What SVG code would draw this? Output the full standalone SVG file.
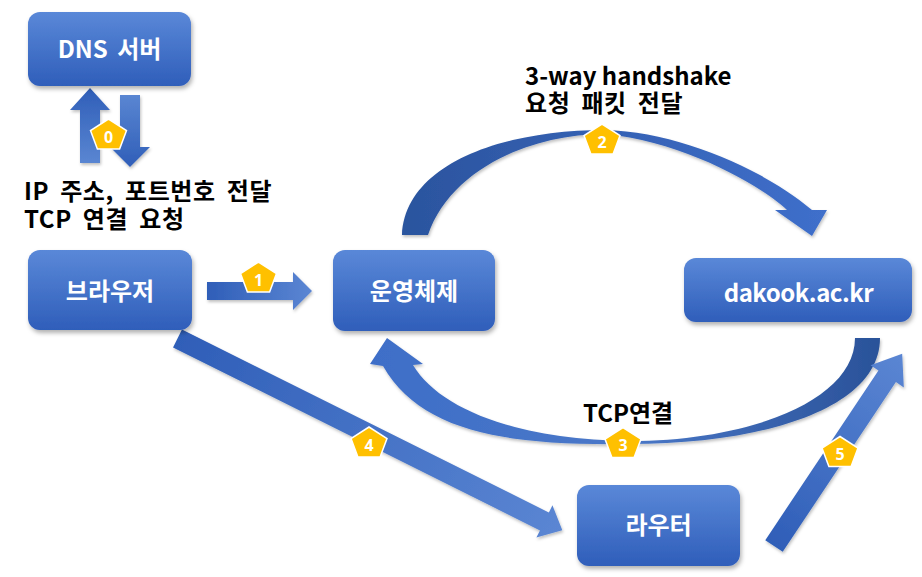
<svg xmlns="http://www.w3.org/2000/svg" width="922" height="577" viewBox="0 0 922 577">
<defs>
<style>
.node rect{fill:url(#gNode);filter:url(#sh)}
.ntext{font-family:"Noto Sans CJK KR","Noto Sans",sans-serif;font-weight:700;font-size:24px;fill:#fff;text-anchor:middle}
.lbl{font-family:"Noto Sans CJK KR","Noto Sans",sans-serif;font-weight:700;font-size:24px;fill:#000}
.ko{word-spacing:5px;letter-spacing:0.6px}
.badge text{font-family:"Noto Sans","Noto Sans CJK KR",sans-serif;font-weight:700;font-size:16px;fill:#fff;text-anchor:middle}
.badge use{fill:#FFC000;stroke:#fff;stroke-width:1.5}
</style>
<linearGradient id="gNode" x1="0" y1="0" x2="0" y2="1">
<stop offset="0" stop-color="#5A88D8"/><stop offset="1" stop-color="#2F5EBA"/>
</linearGradient>
<linearGradient id="gUp" x1="0" y1="1" x2="0" y2="0">
<stop offset="0" stop-color="#5A86D2"/><stop offset="1" stop-color="#2F5EB8"/>
</linearGradient>
<linearGradient id="gDown" x1="0" y1="0" x2="0" y2="1">
<stop offset="0" stop-color="#5A86D2"/><stop offset="1" stop-color="#2F5EB8"/>
</linearGradient>
<linearGradient id="gStraight" x1="0" y1="0" x2="1" y2="0">
<stop offset="0" stop-color="#2F5EB8"/><stop offset="1" stop-color="#5B86D3"/>
</linearGradient>
<linearGradient id="gArc2" gradientUnits="userSpaceOnUse" x1="402" y1="0" x2="827" y2="0">
<stop offset="0" stop-color="#2B549E"/><stop offset="1" stop-color="#3F6FCB"/>
</linearGradient>
<linearGradient id="gArc3" gradientUnits="userSpaceOnUse" x1="370" y1="0" x2="880" y2="0">
<stop offset="0" stop-color="#3E6EC8"/><stop offset="0.5" stop-color="#4A78C8"/><stop offset="1" stop-color="#2A5299"/>
</linearGradient>
<filter id="sh" x="-20%" y="-20%" width="140%" height="150%">
<feDropShadow dx="1.5" dy="3" stdDeviation="2" flood-color="#000" flood-opacity="0.3"/>
</filter>
<filter id="ash" x="-20%" y="-20%" width="140%" height="150%">
<feDropShadow dx="1" dy="2" stdDeviation="1.5" flood-color="#000" flood-opacity="0.25"/>
</filter>
<polygon id="pent" points="0,-15 18,-3.5 11.1,15 -11.1,15 -18,-3.5"/>
</defs>
<rect width="922" height="577" fill="#fff"/>

<g id="connectors" filter="url(#ash)">
<polygon id="dns-up" fill="url(#gUp)" points="90,88 110,110 100,110 100,163 80,163 80,110 70,110"/>
<polygon id="dns-down" fill="url(#gDown)" points="120,95 140,95 140,147 150,147 130,167 110,147 120,147"/>
<polygon id="arrow1" fill="url(#gStraight)" points="207,282 293,282 293,272 312,291 293,310 293,300 207,300"/>
<path id="arrow2" fill="url(#gArc2)" d="M 402 235 C 405 165, 500 130, 605 130 C 680 132, 765 170, 812 210 L 827 210 L 812 236 L 775 210 L 787 210 C 760 185, 685 142, 605 134 C 530 134, 450 170, 428 235 Z"/>
<path id="arrow3" fill="url(#gArc3)" d="M 880 338 C 880 410, 760 444, 630 444 C 500 446, 420 430, 383 366 L 370 364 L 387 338 L 423 364 L 413 365 C 440 410, 520 440, 630 441 C 750 441, 855 400, 855 338 Z"/>
<polygon id="arrow4" fill="url(#gStraight)" transform="translate(177.5,338.5) rotate(26.5)" points="0,-10 410,-10 410,-18 430,0 410,18 410,10 0,10"/>
<polygon id="arrow5" fill="url(#gStraight)" transform="translate(774,546) rotate(-56.3)" points="0,-10.5 204,-10.5 204,-20 231,0 204,20 204,10.5 0,10.5"/>
</g>

<g id="node-dns" class="node">
<rect x="28" y="12" width="163" height="74" rx="12"/>
<text class="ntext" x="109.5" y="58" word-spacing="4">DNS 서버</text>
</g>
<g id="node-browser" class="node">
<rect x="28" y="250" width="164" height="80" rx="12"/>
<text class="ntext" x="110" y="300">브라우저</text>
</g>
<g id="node-os" class="node">
<rect x="333" y="250" width="162" height="81" rx="12"/>
<text class="ntext" x="414" y="299.5">운영체제</text>
</g>
<g id="node-server" class="node">
<rect x="684" y="258" width="228" height="64" rx="12"/>
<text class="ntext" x="798.5" y="302" letter-spacing="-0.5">dakook.ac.kr</text>
</g>
<g id="node-router" class="node">
<rect x="577" y="485" width="163" height="81" rx="12"/>
<text class="ntext" x="658.5" y="534">라우터</text>
</g>

<g id="labels">
<text class="lbl ko"><tspan x="24" y="200">IP 주소, 포트번호 전달</tspan><tspan x="24" y="228">TCP 연결 요청</tspan></text>
<text class="lbl"><tspan x="525" y="85">3-way handshake</tspan><tspan class="ko" x="525" y="112">요청 패킷 전달</tspan></text>
<text class="lbl" x="583" y="422">TCP연결</text>
</g>

<g id="badges">
<g class="badge" transform="translate(108.5,134)"><use href="#pent"/><text y="8.5">0</text></g>
<g class="badge" transform="translate(258.5,277)"><use href="#pent"/><text y="8.5">1</text></g>
<g class="badge" transform="translate(602,139)"><use href="#pent"/><text y="8.5">2</text></g>
<g class="badge" transform="translate(623,442.5)"><use href="#pent"/><text y="8.5">3</text></g>
<g class="badge" transform="translate(369,442)"><use href="#pent"/><text y="8.5">4</text></g>
<g class="badge" transform="translate(840,451.5)"><use href="#pent"/><text y="8.5">5</text></g>
</g>
</svg>
